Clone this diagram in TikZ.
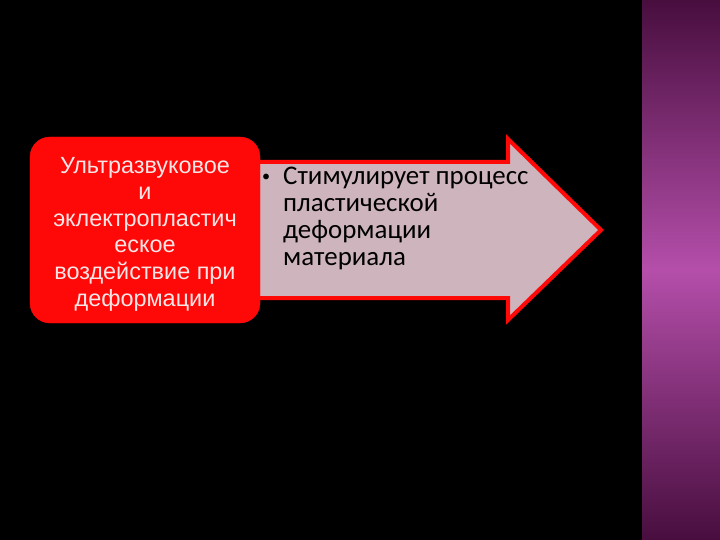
\documentclass[tikz,border=0pt]{standalone}
\usepackage{fontspec}
\setmainfont{Liberation Sans}
\newfontfamily\arrowfont{Carlito}
\usetikzlibrary{calc}

\definecolor{boxred}{RGB}{255,8,8}
\definecolor{arrowfill}{RGB}{206,180,189}
\definecolor{boxtext}{RGB}{248,230,230}
\definecolor{stripdark}{RGB}{72,14,62}
\definecolor{striplight}{RGB}{180,78,170}

\tikzset{
  effectbox/.style={fill=boxred, draw=boxred, rounded corners=20bp,
    minimum width=230bp, minimum height=186bp},
  effecttext/.style={text=boxtext, font=\fontsize{23.5}{26.7}\selectfont, align=center},
  resultarrow/.style={fill=arrowfill, draw=boxred, line width=4bp, line join=miter},
  resulttext/.style={text=black, font=\arrowfont\fontsize{27}{27}\selectfont,
    align=left, anchor=north west, inner sep=0pt}
}

\begin{document}
\begin{tikzpicture}[x=1bp, y=-1bp]
    \fill[black] (0,0) rectangle (720,540);
    \shade[top color=stripdark, bottom color=stripdark, middle color=striplight]
      (642,0) rectangle (720,540);
    \useasboundingbox (0,0) rectangle (720,540);

    \coordinate (T1) at (240,162);
    \coordinate (T2) at (508,162);
    \coordinate (T3) at (508,139);
    \coordinate (T4) at (601,230);
    \coordinate (T5) at (508,320);
    \coordinate (T6) at (508,298);
    \coordinate (T7) at (240,298);
    \draw[resultarrow] (T1) -- (T2) -- (T3) -- (T4) -- (T5) -- (T6) -- (T7) -- cycle;

    \node[effectbox] (effect) at (145,230) {};
    \node[effecttext] (effectlabel) at ($(effect.center)+(0,4)$)
      {Ультразвуковое\\и\\эклектропластич\\еское\\воздействие при\\деформации};

    \node[resulttext] (result) at (259,167)
      {\makebox[24bp][l]{\hspace*{3bp}\raisebox{3bp}{\scalebox{0.6}{\textbullet}}}Стимулирует процесс\\
       \hspace*{24bp}пластической\\
       \hspace*{24bp}деформации\\
       \hspace*{24bp}материала};
\end{tikzpicture}
\end{document}
